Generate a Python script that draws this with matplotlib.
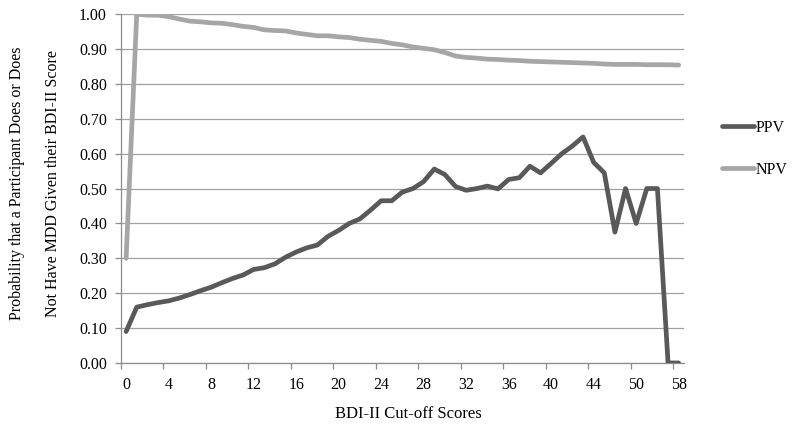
import matplotlib.pyplot as plt
import numpy as np

plt.rcParams['font.family'] = ['Liberation Serif', 'DejaVu Serif']

# BDI-II cut-off scores shown on the category axis (not every integer is present)
scores = list(range(0, 45)) + [45, 46, 47, 50, 51, 54, 56, 58]

ppv = [0.090, 0.160, 0.167, 0.173, 0.178, 0.186, 0.196, 0.207, 0.217, 0.230,
       0.242, 0.252, 0.268, 0.273, 0.284, 0.303, 0.318, 0.330, 0.338, 0.363,
       0.380, 0.400, 0.413, 0.438, 0.465, 0.465, 0.490, 0.500, 0.520, 0.556,
       0.540, 0.506, 0.495, 0.500, 0.507, 0.499, 0.526, 0.531, 0.564, 0.545,
       0.572, 0.600, 0.622, 0.648, 0.575, 0.545, 0.375, 0.500, 0.400, 0.500,
       0.500, 0.000, 0.000]

npv = [0.300, 1.000, 0.997, 0.997, 0.993, 0.986, 0.980, 0.978, 0.975, 0.974,
       0.970, 0.965, 0.962, 0.955, 0.953, 0.952, 0.946, 0.942, 0.938, 0.938,
       0.935, 0.933, 0.928, 0.925, 0.922, 0.916, 0.912, 0.906, 0.902, 0.898,
       0.890, 0.880, 0.876, 0.874, 0.871, 0.870, 0.868, 0.867, 0.865, 0.864,
       0.863, 0.862, 0.861, 0.860, 0.859, 0.857, 0.856, 0.856, 0.856, 0.855,
       0.855, 0.855, 0.854]

y_ticks = np.arange(0, 1.01, 0.1)

fig = plt.figure(figsize=(8, 4.29), dpi=100)
ax = fig.add_axes([0.151, 0.154, 0.704, 0.813])

idx = np.arange(len(scores))
line_kw = dict(lw=3.4, solid_joinstyle='round', solid_capstyle='round')
ax.plot(idx, ppv, color='#595959', label='PPV', zorder=3, **line_kw)
ax.plot(idx, npv, color='#a6a6a6', label='NPV', zorder=3, **line_kw)

ax.set_xlim(-0.5, len(scores) - 0.5)
ax.set_ylim(0, 1)

# labels every 4th category, ticks on category boundaries
label_idx = idx[::4]
ax.set_xticks(label_idx)
ax.set_xticklabels([str(scores[i]) for i in label_idx])
ax.set_xticks(np.arange(-0.5, len(scores) - 0.5, 4), minor=True)
ax.tick_params(axis='x', which='major', length=0, pad=10, labelsize=11.5)
ax.tick_params(axis='x', which='minor', length=4.5, width=0.9,
               color='#8c8c8c', direction='out')

ax.set_yticks(y_ticks)
ax.set_yticklabels([f"{v:.2f}" for v in y_ticks])
ax.tick_params(axis='y', length=4.5, width=0.9, color='#8c8c8c',
               direction='out', pad=5.5, labelsize=11.5)

ax.grid(axis='y', color='#a0a0a0', lw=0.9)
ax.set_axisbelow(True)
for s in ('top', 'right'):
    ax.spines[s].set_visible(False)
for s in ('left', 'bottom'):
    ax.spines[s].set_color('#8c8c8c')
    ax.spines[s].set_linewidth(0.9)

fig.text(0.51, 0.036, 'BDI-II Cut-off Scores', ha='center', va='center',
         fontsize=12)
fig.text(0.021, 0.573, 'Probability that a Participant Does or Does',
         rotation=90, ha='center', va='center', fontsize=11.5)
fig.text(0.066, 0.573, 'Not Have MDD Given their BDI-II Score',
         rotation=90, ha='center', va='center', fontsize=11.5)

leg = ax.legend(loc='upper left', bbox_to_anchor=(0.895, 0.735),
                bbox_transform=fig.transFigure, frameon=False,
                handlelength=2.0, handletextpad=0.05, labelspacing=1.6,
                fontsize=11.5, borderaxespad=0)

fig.savefig('out.png', dpi=100)
